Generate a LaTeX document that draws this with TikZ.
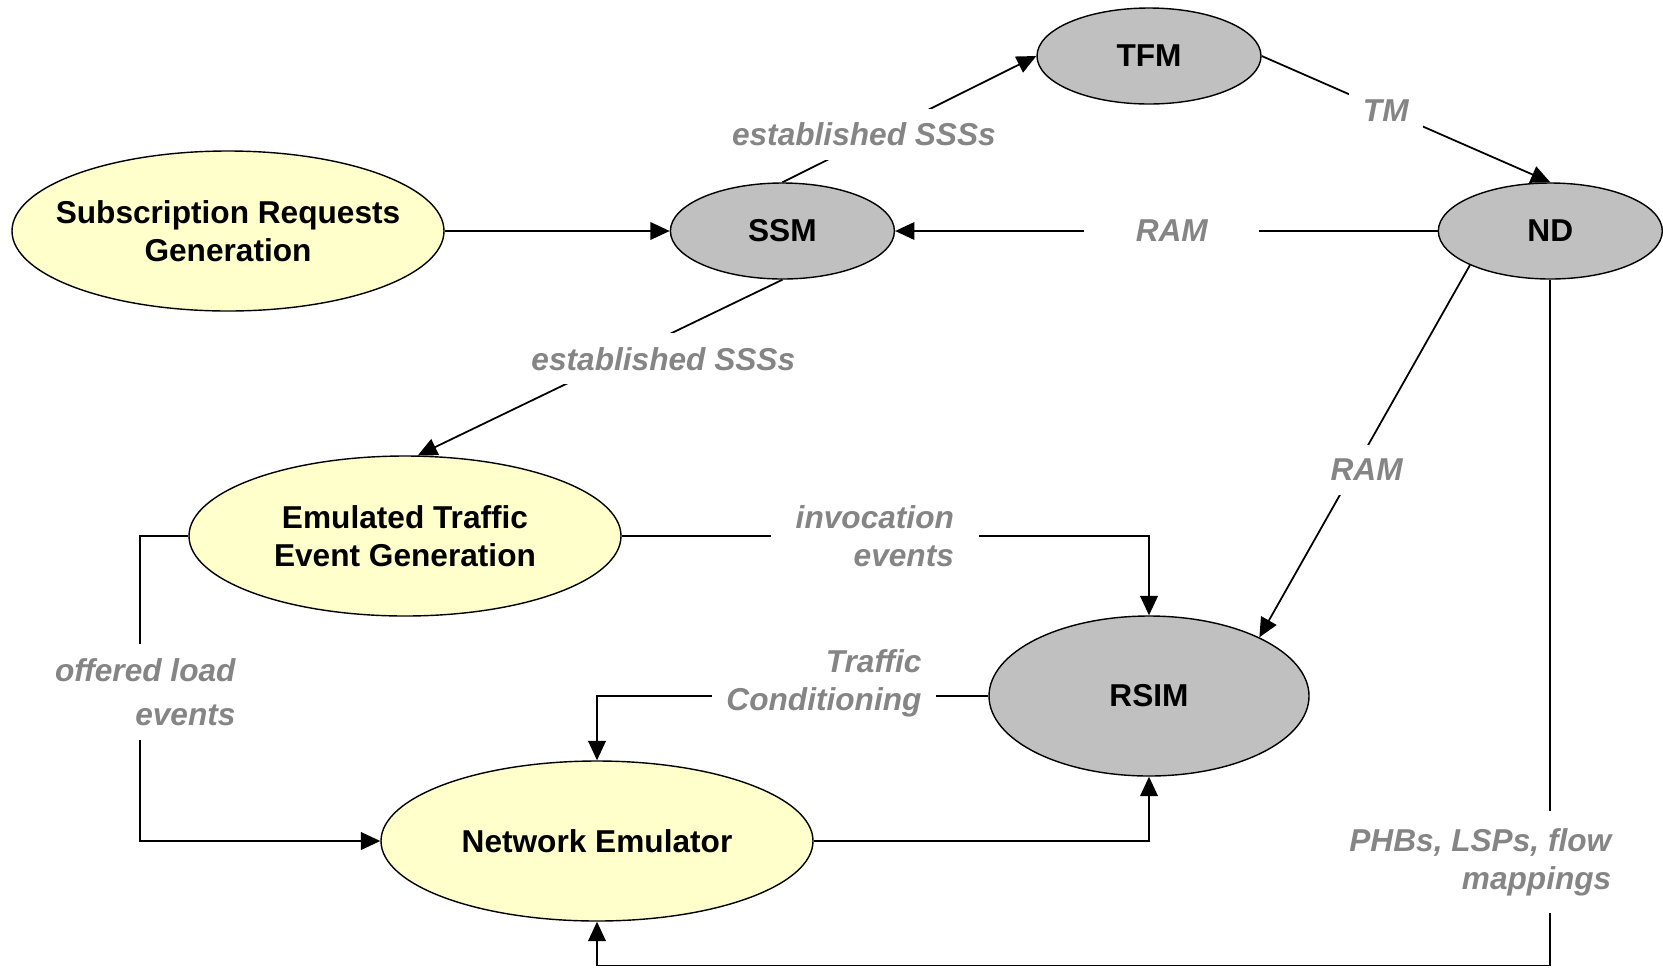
\documentclass[tikz,border=0pt]{standalone}
\usepackage{fontspec}
\setmainfont{Liberation Sans}
\usetikzlibrary{positioning, shapes.geometric, arrows.meta}
\definecolor{genyellow}{HTML}{FFFFCC}
\definecolor{modgray}{HTML}{C0C0C0}
\definecolor{lblgray}{HTML}{858585}

\begin{document}
\begin{tikzpicture}[node distance=4.5cm, >={Triangle[length=11pt,width=10pt]}, line width=1pt]
        \tikzstyle{gen_node} = [ellipse, draw=black, line width=0.8pt, fill=genyellow, minimum width=8.64cm, minimum height=3.2cm, inner sep=0pt, align=center, font=\fontsize{18}{21.6}\selectfont\bfseries]
        \tikzstyle{mod_node} = [ellipse, draw=black, line width=0.8pt, fill=modgray, minimum width=4.48cm, minimum height=1.92cm, inner sep=0pt, align=center, font=\fontsize{18}{21.6}\selectfont\bfseries]
        \tikzstyle{lbl} = [fill=white, text=lblgray, inner sep=8pt, align=right, font=\fontsize{18}{21.6}\selectfont\bfseries\itshape]

        \useasboundingbox (0,0) rectangle (33.26,-19.36);

        \node [gen_node, inner xsep=-5mm] (srg) at (4.56,-4.62) {Subscription Requests\\Generation};
        \node [mod_node, right=4.5cm of srg] (ssm) {SSM};
        \node [mod_node, right=10.85cm of ssm] (nd) {ND};
        \node [mod_node] (tfm) at (22.98,-1.12) {TFM};

        \node [gen_node] (ete) at (8.1,-10.72) {Emulated Traffic\\Event Generation};
        \node [mod_node, minimum width=6.4cm, minimum height=3.2cm] (rsim) at (22.98,-13.92) {RSIM};
        \node [gen_node] (ne) at (11.94,-16.82) {Network Emulator};

        \coordinate (floor) at (0,-19.31);

        \draw [->] (srg) -- (ssm);
        \draw [->] (ssm.north) -- node[lbl, pos=0.38, xshift=-0.3cm] {established SSSs} (tfm.west);
        \draw [->] (tfm.east) -- node[lbl, pos=0.43] {TM} (nd.north);
        \draw [->] (nd) -- node[lbl, pos=0.49, minimum width=3.5cm] {RAM} (ssm);
        \draw [->] (ssm.south) -- node[lbl, pos=0.45, xshift=0.9cm] {established SSSs} (ete.81);

        \draw [->] (ete) -| node[lbl, pos=0.24, inner xsep=14pt] {invocation\\events} (rsim);
        \draw [->] (ete.west) -- ++(-0.96,0) |- node[lbl, pos=0.256, xshift=0.1cm] {offered load\\[3.5pt]events} (ne.west);
        \draw [->] (rsim) -| node[lbl, pos=0.21, yshift=7pt] {Traffic\\Conditioning} (ne);
        \draw [->] (ne) -| (rsim);

        \draw [->] (nd.203) -- node[lbl, pos=0.55, xshift=0.25cm] {RAM} (rsim.28);
        \draw [->] (nd) -- node[lbl, pos=0.849, xshift=-1.4cm, inner ysep=10pt] {PHBs, LSPs, flow\\mappings} (nd |- floor) -| (ne);

    \end{tikzpicture}
\end{document}
